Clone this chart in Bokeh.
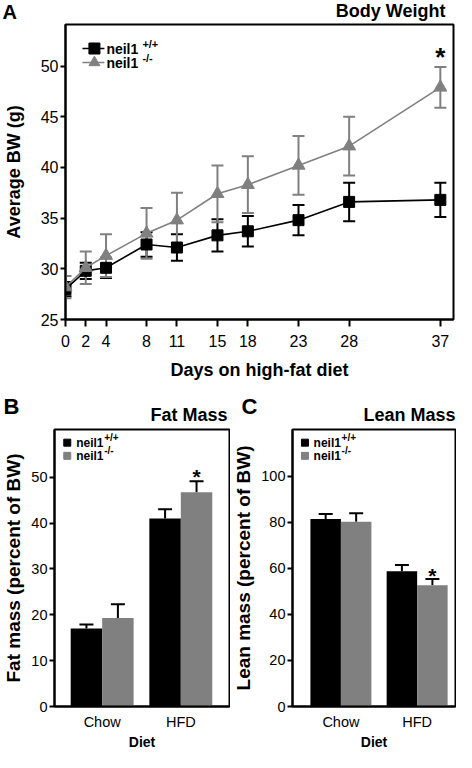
from bokeh.plotting import figure
from bokeh.layouts import column, row
from bokeh.models import Range1d, FixedTicker, Whisker, TeeHead, Label, ColumnDataSource
from bokeh.embed import file_html
from bokeh.resources import INLINE

FONT = "Liberation Sans"
BLACK = "#000000"
GRAY = "#808080"

# ---------------- data ----------------
days = [0, 2, 4, 8, 11, 15, 18, 23, 28, 37]
bw_wt = [28.0, 29.8, 30.1, 32.4, 32.1, 33.3, 33.7, 34.8, 36.6, 36.8]
bw_wt_err = [0.7, 0.8, 1.0, 1.2, 1.3, 1.6, 1.5, 1.5, 1.9, 1.7]
bw_ko = [28.2, 30.1, 31.3, 33.5, 34.8, 37.4, 38.3, 40.2, 42.1, 47.9]
bw_ko_err = [1.1, 1.6, 2.1, 2.5, 2.7, 2.8, 2.8, 2.9, 2.9, 2.0]
bw_ticks = [25, 30, 35, 40, 45, 50]

diets = ["Chow", "HFD"]
fat_wt = [17.0, 41.0]
fat_wt_err = [0.9, 2.0]
fat_ko = [19.3, 46.7]
fat_ko_err = [3.0, 2.4]
fat_ticks = [0, 10, 20, 30, 40, 50]

lean_wt = [81.4, 58.7]
lean_wt_err = [2.2, 2.8]
lean_ko = [80.2, 52.7]
lean_ko_err = [3.7, 2.7]
lean_ticks = [0, 20, 40, 60, 80, 100]

legend_names = ["neil1", "neil1"]
legend_sups = ["+/+", "-/-"]


def style(p, tick_size, label_size, lw):
    for ax in (p.xaxis[0], p.yaxis[0]):
        ax.axis_line_width = lw
        ax.axis_line_color = BLACK
        ax.major_tick_line_width = lw
        ax.major_tick_line_color = BLACK
        ax.minor_tick_line_color = None
        ax.major_tick_in = 0
        ax.major_label_text_font = FONT
        ax.major_label_text_font_size = tick_size
        ax.major_label_text_color = BLACK
        ax.axis_label_text_font = FONT
        ax.axis_label_text_font_style = "bold"
        ax.axis_label_text_font_size = label_size
        ax.axis_label_text_color = BLACK
    p.xgrid.grid_line_color = None
    p.ygrid.grid_line_color = None
    p.outline_line_color = BLACK
    p.outline_line_width = lw
    p.outline_line_alpha = 1.0
    p.background_fill_color = "white"
    p.border_fill_color = "white"


def px2x(p, fw, px):
    r = p.x_range
    return r.start + (r.end - r.start) * px / fw


def px2y(p, fh, px_from_top):
    r = p.y_range
    return r.end - (r.end - r.start) * px_from_top / fh


def text_label(p, x, y, text, size, align="left", baseline="middle", style_="bold", xo=0, yo=0):
    p.add_layout(Label(x=x, y=y, text=text, text_font=FONT, text_font_size=size,
                       text_font_style=style_, text_align=align, text_baseline=baseline,
                       text_color=BLACK, x_offset=xo, y_offset=yo))


def header(W, H, items):
    h = figure(width=W, height=H, x_range=Range1d(0, W), y_range=Range1d(H, 0),
               x_axis_type=None, y_axis_type=None, min_border=0,
               min_border_left=0, min_border_right=0, min_border_top=0, min_border_bottom=0,
               output_backend="svg", toolbar_location=None, title="")
    h.outline_line_color = None
    h.background_fill_color = "white"
    h.border_fill_color = "white"
    for (x, y, text, size, align) in items:
        text_label(h, x, y, text, size, align=align)
    return h


# ---------------- Panel A ----------------
hA = header(456, 23, [(2, 11.5, "A", "20px", "left"), (445, 10.5, "Body Weight", "18px", "right")])

A_W, A_H = 456, 363
A_L, A_R, A_T, A_B = 64, 3, 1, 67
A_FW, A_FH = A_W - A_L - A_R, A_H - A_T - A_B
pA = figure(width=A_W, height=A_H, x_range=Range1d(0, 38.3), y_range=Range1d(25, 54.1),
            min_border_left=A_L, min_border_right=A_R, min_border_top=A_T, min_border_bottom=A_B,
            output_backend="svg", toolbar_location=None, title="")
style(pA, "16px", "18px", 2)
pA.xaxis.ticker = FixedTicker(ticks=days)
pA.yaxis.ticker = FixedTicker(ticks=bw_ticks)
pA.xaxis.major_tick_out = 7
pA.xaxis.major_label_standoff = 8
pA.yaxis.major_tick_out = 5
pA.yaxis.major_label_standoff = 2
pA.xaxis.axis_label = "Days on high-fat diet"
pA.yaxis.axis_label = "Average BW (g)"
pA.xaxis.axis_label_standoff = 10
pA.yaxis.axis_label_standoff = 14

srcA = ColumnDataSource(dict(
    day=days, wt=bw_wt, ko=bw_ko,
    wt_lo=[m - e for m, e in zip(bw_wt, bw_wt_err)], wt_hi=[m + e for m, e in zip(bw_wt, bw_wt_err)],
    ko_lo=[m - e for m, e in zip(bw_ko, bw_ko_err)], ko_hi=[m + e for m, e in zip(bw_ko, bw_ko_err)],
))
for lo, hi, col in (("wt_lo", "wt_hi", BLACK), ("ko_lo", "ko_hi", GRAY)):
    pA.add_layout(Whisker(source=srcA, base="day", lower=lo, upper=hi, line_color=col, line_width=2,
                          upper_head=TeeHead(size=12, line_color=col, line_width=2),
                          lower_head=TeeHead(size=12, line_color=col, line_width=2)))
pA.line("day", "wt", source=srcA, line_color=BLACK, line_width=1.6)
pA.scatter("day", "wt", source=srcA, marker="square", size=11, fill_color=BLACK, line_color=BLACK)
pA.line("day", "ko", source=srcA, line_color=GRAY, line_width=1.6)
pA.scatter("day", "ko", source=srcA, marker="triangle", size=13, fill_color=GRAY, line_color=GRAY)

# significance star
text_label(pA, days[-1], bw_ko[-1] + bw_ko_err[-1], "*", "26px", align="center", yo=10)

# legend A
keyA = [(BLACK, "square", 11), (GRAY, "triangle", 11)]
for i, (col, mk, sz) in enumerate(keyA):
    yk = px2y(pA, A_FH, 24 + 14 * i)
    pA.line([px2x(pA, A_FW, 17), px2x(pA, A_FW, 39)], [yk, yk], line_color=col, line_width=1.6)
    pA.scatter([px2x(pA, A_FW, 29)], [yk], marker=mk, size=sz, fill_color=col, line_color=col)
    text_label(pA, px2x(pA, A_FW, 41), yk, legend_names[i], "14px")
    text_label(pA, px2x(pA, A_FW, 41), yk, legend_sups[i], "11px", xo=36, yo=5)


# ---------------- Panels B and C ----------------
def bar_panel(W, L, R, xr, yr, ticks, wt, wt_err, ko, ko_err, ylabel, star_yo):
    H, T, B = 328, 5, 39
    FW, FH = W - L - R, H - T - B
    p = figure(width=W, height=H, x_range=Range1d(*xr), y_range=Range1d(*yr),
               min_border_left=L, min_border_right=R, min_border_top=T, min_border_bottom=B,
               output_backend="svg", toolbar_location=None, title="")
    style(p, "14.5px", "19px", 2)
    groups = list(range(1, len(diets) + 1))
    p.xaxis.ticker = FixedTicker(ticks=groups)
    p.xaxis.major_label_overrides = {g: d for g, d in zip(groups, diets)}
    p.xaxis.major_tick_out = 0
    p.xaxis.major_label_standoff = 7
    p.xaxis.axis_label = "Diet"
    p.xaxis.axis_label_text_font_size = "14px"
    p.xaxis.axis_label_standoff = 1
    p.yaxis.ticker = FixedTicker(ticks=ticks)
    p.yaxis.major_tick_out = 5
    p.yaxis.major_label_standoff = 2
    p.yaxis.axis_label = ylabel
    p.yaxis.axis_label_standoff = 4

    half = 0.2
    src = ColumnDataSource(dict(
        xw=[g - half for g in groups], xk=[g + half for g in groups],
        wt=wt, ko=ko,
        wt_hi=[m + e for m, e in zip(wt, wt_err)], ko_hi=[m + e for m, e in zip(ko, ko_err)],
    ))
    p.vbar(x="xw", top="wt", width=2 * half, bottom=0, source=src, fill_color=BLACK, line_color=None)
    p.vbar(x="xk", top="ko", width=2 * half, bottom=0, source=src, fill_color=GRAY, line_color=None)
    for base, lo, hi in (("xw", "wt", "wt_hi"), ("xk", "ko", "ko_hi")):
        p.add_layout(Whisker(source=src, base=base, lower=lo, upper=hi, line_color=BLACK, line_width=2,
                             upper_head=TeeHead(size=14, line_color=BLACK, line_width=2),
                             lower_head=None))
    # star on HFD knockout
    text_label(p, groups[-1] + half, ko[-1] + ko_err[-1], "*", "21px", align="center", yo=star_yo)
    # legend
    for i, col in enumerate((BLACK, GRAY)):
        yk = px2y(p, FH, 13.5 + 13.5 * i)
        p.scatter([px2x(p, FW, 13)], [yk], marker="square", size=7, fill_color=col, line_color=col)
        text_label(p, px2x(p, FW, 22), yk, legend_names[i], "12px")
        text_label(p, px2x(p, FW, 22), yk, legend_sups[i], "10px", xo=28, yo=5)
    return p


hBC = header(456, 38, [(3, 20, "B", "22px", "left"), (227, 28, "Fat Mass", "18px", "right"),
                       (241, 20, "C", "22px", "left"), (455, 28, "Lean Mass", "18px", "right")])
pB = bar_panel(230, 51, 1, (0.394, 2.619), (0, 60.4), fat_ticks, fat_wt, fat_wt_err, fat_ko, fat_ko_err,
               "Fat mass (percent of BW)", 5)
pC = bar_panel(226, 55, 1, (0.365, 2.503), (0, 120.3), lean_ticks, lean_wt, lean_wt_err, lean_ko, lean_ko_err,
               "Lean mass (percent of BW)", 3)

layout = column(row(hA, spacing=0), row(pA, spacing=0), row(hBC, spacing=0),
                row(pB, pC, spacing=0), spacing=0)
open("out.html", "w").write(file_html(layout, INLINE))
